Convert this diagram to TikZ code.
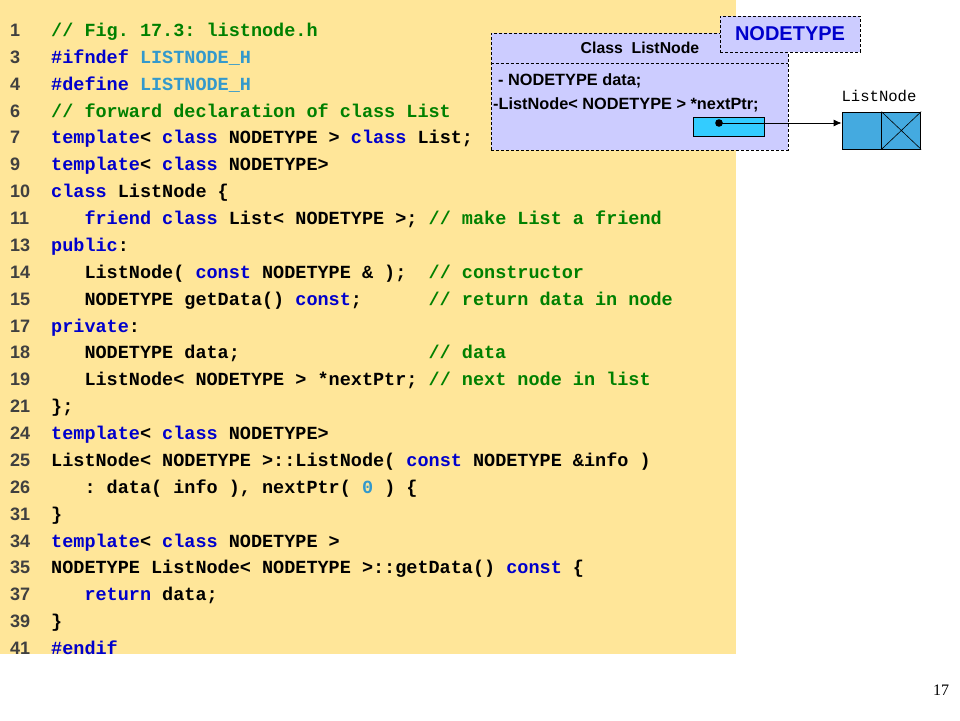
\documentclass[tikz,border=0pt]{standalone}
\usepackage{fontspec}
\setmainfont{Liberation Sans}
\newfontfamily\codefont{Liberation Mono}
\newfontfamily\pagefont{Liberation Serif}
\usetikzlibrary{arrows.meta,positioning}
\frenchspacing

\definecolor{codebg}{RGB}{255,230,153}
\definecolor{classbg}{RGB}{204,204,255}
\definecolor{kwblue}{RGB}{0,0,204}
\definecolor{mcblue}{RGB}{51,153,204}
\definecolor{cmgreen}{RGB}{0,128,0}
\definecolor{ptrcyan}{RGB}{51,204,255}
\definecolor{cellblue}{RGB}{68,170,224}

\newcommand{\kw}[1]{\textcolor{kwblue}{#1}}
\newcommand{\mc}[1]{\textcolor{mcblue}{#1}}
\newcommand{\cm}[1]{\textcolor{cmgreen}{#1}}
\newcommand{\sps}[1]{\hspace*{#1\dimexpr 11.1pt\relax}}

\begin{document}
\begin{tikzpicture}[x=1pt,y=-1pt,
    codeline/.style={anchor=base west, inner sep=0pt, font=\codefont\bfseries\fontsize{18.5}{20}\selectfont},
    linenum/.style={anchor=base west, inner sep=0pt, text=black!75, font=\bfseries\fontsize{18}{20}\selectfont},
    dashbox/.style={draw, fill=classbg, line width=0.8pt, dash pattern=on 3pt off 2pt, inner sep=0pt},
    member/.style={anchor=base west, inner sep=0pt, font=\bfseries\fontsize{16.3}{18}\selectfont},
    cell/.style={draw, fill=cellblue, minimum width=39, minimum height=37, inner sep=0pt, line width=0.8pt}]
    \useasboundingbox (0,0) rectangle (960,720);

    % Code background
    \fill[codebg] (0,0) rectangle (736,654);

    % Code lines
    \foreach \n/\c [count=\k from 0] in {
        1/{\cm{// Fig. 17.3: listnode.h}},
        3/{\kw{\#ifndef} \mc{LISTNODE\_H}},
        4/{\kw{\#define} \mc{LISTNODE\_H}},
        6/{\cm{// forward declaration of class List}},
        7/{\kw{template}< \kw{class} NODETYPE > \kw{class} List;},
        9/{\kw{template}< \kw{class} NODETYPE>},
        10/{\kw{class} ListNode \{},
        11/{\sps{3}\kw{friend} \kw{class} List< NODETYPE >; \cm{// make List a friend}},
        13/{\kw{public}:},
        14/{\sps{3}ListNode( \kw{const} NODETYPE \& );\sps{2}\cm{// constructor}},
        15/{\sps{3}NODETYPE getData() \kw{const};\sps{6}\cm{// return data in node}},
        17/{\kw{private}:},
        18/{\sps{3}NODETYPE data;\sps{17}\cm{// data}},
        19/{\sps{3}ListNode< NODETYPE > *nextPtr; \cm{// next node in list}},
        21/{\};},
        24/{\kw{template}< \kw{class} NODETYPE>},
        25/{ListNode< NODETYPE >::ListNode( \kw{const} NODETYPE \&info )},
        26/{\sps{3}: data( info ), nextPtr( \mc{0} ) \{},
        31/{\}},
        34/{\kw{template}< \kw{class} NODETYPE >},
        35/{NODETYPE ListNode< NODETYPE >::getData() \kw{const} \{},
        37/{\sps{3}\kw{return} data;},
        39/{\}},
        41/{\kw{\#endif}}} {
        \node[linenum] (n\n) at (10,{36.5+26.87*\k}) {\n};
        \node[codeline] (l\n) at (51,{36.5+26.87*\k}) {\c};
    }

    % Class ListNode box
    \node[dashbox, minimum width=297, minimum height=117] (cls) at (639.5,91.5) {};
    \draw[line width=0.8pt, dash pattern=on 3pt off 2pt] (cls.west |- 0,63) -- (cls.east |- 0,63);
    \node[font=\bfseries\fontsize{15.8}{17}\selectfont, inner sep=0pt] (title) at (640,48) {Class\ \ ListNode};
    \node[member] (mdata) at (498,85) {- NODETYPE data;};
    \node[member] (mnext) at (493,109) {-ListNode< NODETYPE > *nextPtr;};

    % Template parameter
    \node[dashbox, minimum width=140, minimum height=36, text=kwblue,
          font=\bfseries\fontsize{20}{22}\selectfont] (tparam) at (790,34) {NODETYPE};

    % Pointer field and list node
    \node[draw, fill=ptrcyan, minimum width=71, minimum height=19, inner sep=0pt, line width=0.8pt] (ptr) at (728.5,126.5) {};
    \coordinate (dot) at (719,123);
    \fill (dot) circle (3.8pt);
    \node[cell] (cdata) at (861.5,130.5) {};
    \node[cell, right=0pt of cdata] (cnext) {};
    \draw[line width=0.6pt] (cnext.north west) -- (cnext.south east) (cnext.south west) -- (cnext.north east);
    \node[font=\codefont\fontsize{15.6}{17}\selectfont, inner sep=0pt] (lbl) at (879,96) {ListNode};
    \draw[line width=0.8pt, -{Latex[length=8pt,width=7pt]}] (dot) -- (dot -| cdata.west);

    % Page number
    \node[font=\pagefont\fontsize{16}{18}\selectfont, inner sep=0pt] (page) at (941,690) {17};
\end{tikzpicture}
\end{document}
